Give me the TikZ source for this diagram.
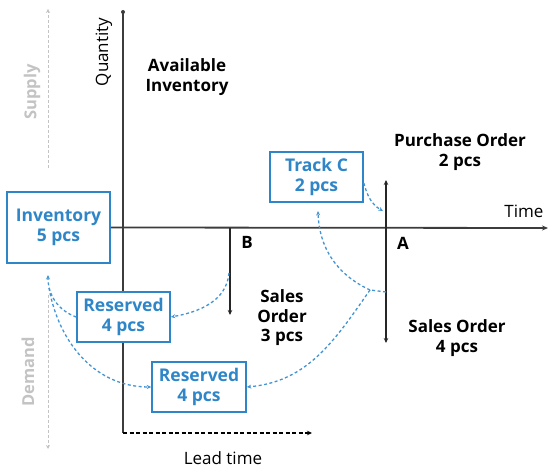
\documentclass[tikz,border=0pt]{standalone}
\usepackage{fontspec}
\setmainfont{Open Sans}
\usetikzlibrary{arrows.meta}
\definecolor{boxblue}{RGB}{46,134,201}
\definecolor{curveblue}{RGB}{66,148,212}
\definecolor{axisgray}{RGB}{60,60,60}
\definecolor{lightgray}{RGB}{195,195,195}
\tikzset{
  bluebox/.style={draw=boxblue, line width=1.6pt, fill=white, text=boxblue,
    font=\fontsize{17.5}{19.5}\selectfont\bfseries, align=center, inner sep=0pt},
  lbl/.style={font=\fontsize{17}{19.5}\selectfont\bfseries, align=center, text=black},
  axlbl/.style={font=\fontsize{17}{19}\selectfont, text=black},
  sidelbl/.style={font=\fontsize{16.5}{19}\selectfont\bfseries, text=lightgray, rotate=90},
  axisline/.style={draw=axisgray, line width=1.8pt},
  orderline/.style={draw=black!85, line width=1.5pt},
  flow/.style={draw=curveblue, line width=1.3pt, dash pattern=on 3pt off 2.5pt},
  tip/.style={-{Stealth[length=4.5pt,width=4pt]}},
  sidearrow/.style={draw=lightgray, line width=1pt, dash pattern=on 3pt off 2pt}
}
\begin{document}
\begin{tikzpicture}[x=1pt,y=1pt]
\useasboundingbox (0,0) rectangle (549,470);
% coordinates
\coordinate (qtop) at (123,458);
\coordinate (origin) at (123,242);
\coordinate (qbot) at (123,37);
\coordinate (ltend) at (312,37);
\coordinate (tend) at (548,242);
\coordinate (Bax) at (230,242);
\coordinate (Bend) at (230,155);
\coordinate (Aup) at (386,290);
\coordinate (Adown) at (386,127);
\coordinate (Ax) at (386,242);
\coordinate (Apt) at (386,178);
\coordinate (J) at (370,180);
\coordinate (Bpt) at (229,197);
\coordinate (invpt) at (48,195);
\coordinate (invstart) at (49,182);
\coordinate (Atip) at (383,259);
\coordinate (trackpt) at (318,259);
\coordinate (supA) at (48,302);
\coordinate (supB) at (48,461);
\coordinate (demA) at (48,175);
\coordinate (demB) at (48,21);
% nodes
\node[bluebox, minimum width=103pt, minimum height=71pt] (inv) at (58.5,242.5) {Inventory\\5 pcs};
\node[bluebox, minimum width=93pt, minimum height=50pt] (track) at (316.5,293) {Track C\\2 pcs};
% axes
\draw[axisline] (qbot) -- (qtop);
\fill[axisgray] (qtop) circle (2pt);
\draw[axisline, -{Stealth[length=6pt,width=5pt]}] (inv.east) -- (tend);
\draw[draw=black, line width=1.1pt, dash pattern=on 4pt off 2.5pt, -{Stealth[length=5pt,width=4.5pt]}] (qbot) -- (ltend);
% order lines
\draw[orderline, -{Stealth[length=5pt,width=4.5pt]}] (Bax) -- (Bend);
\draw[orderline, -{Stealth[length=5pt,width=4.5pt]}] (Ax) -- (Aup);
\draw[orderline, -{Stealth[length=5pt,width=4.5pt]}] (Ax) -- (Adown);
% reserved boxes
\node[bluebox, minimum width=93pt, minimum height=50pt] (res1) at (123.5,153) {Reserved\\4 pcs};
\node[bluebox, minimum width=94pt, minimum height=50pt] (res2) at (199,83) {Reserved\\4 pcs};
% labels
\node[axlbl, rotate=90] (qty) at (104,418) {Quantity};
\node[axlbl] (time) at (524,259) {Time};
\node[axlbl] (lead) at (223,12) {Lead time};
\node[lbl] (avail) at (187,393) {Available\\Inventory};
\node[lbl] (B) at (247,228) {B};
\node[lbl] (A) at (403,227) {A};
\node[lbl] (so3) at (282,152) {Sales\\Order\\3 pcs};
\node[lbl] (po) at (460,318) {Purchase Order\\2 pcs};
\node[lbl] (so4) at (457,132) {Sales Order\\4 pcs};
\node[sidelbl] (supply) at (32,378) {Supply};
\node[sidelbl] (demand) at (28,98) {Demand};
% side arrows
\draw[sidearrow, -{Stealth[length=4pt,width=4pt]}] (supA) -- (supB);
\draw[sidearrow, -{Stealth[length=4pt,width=4pt]}] (demA) -- (demB);
% flows
\draw[flow, tip] (track.east |- 0,287) to[out=-75, in=150] (Atip);
\draw[flow] (Apt) -- (J);
\draw[flow, tip] (J) to[out=155, in=-88] (trackpt);
\draw[flow, tip] (J) to[out=-125, in=5] (res2.east);
\draw[flow, tip] (Bpt) to[out=-95, in=10] (res1.east);
\draw[flow, tip] (res1.west) to[out=160, in=-90] (invpt);
\draw[flow, tip] (invstart) to[out=-80, in=180] (res2.west);
\end{tikzpicture}
\end{document}
